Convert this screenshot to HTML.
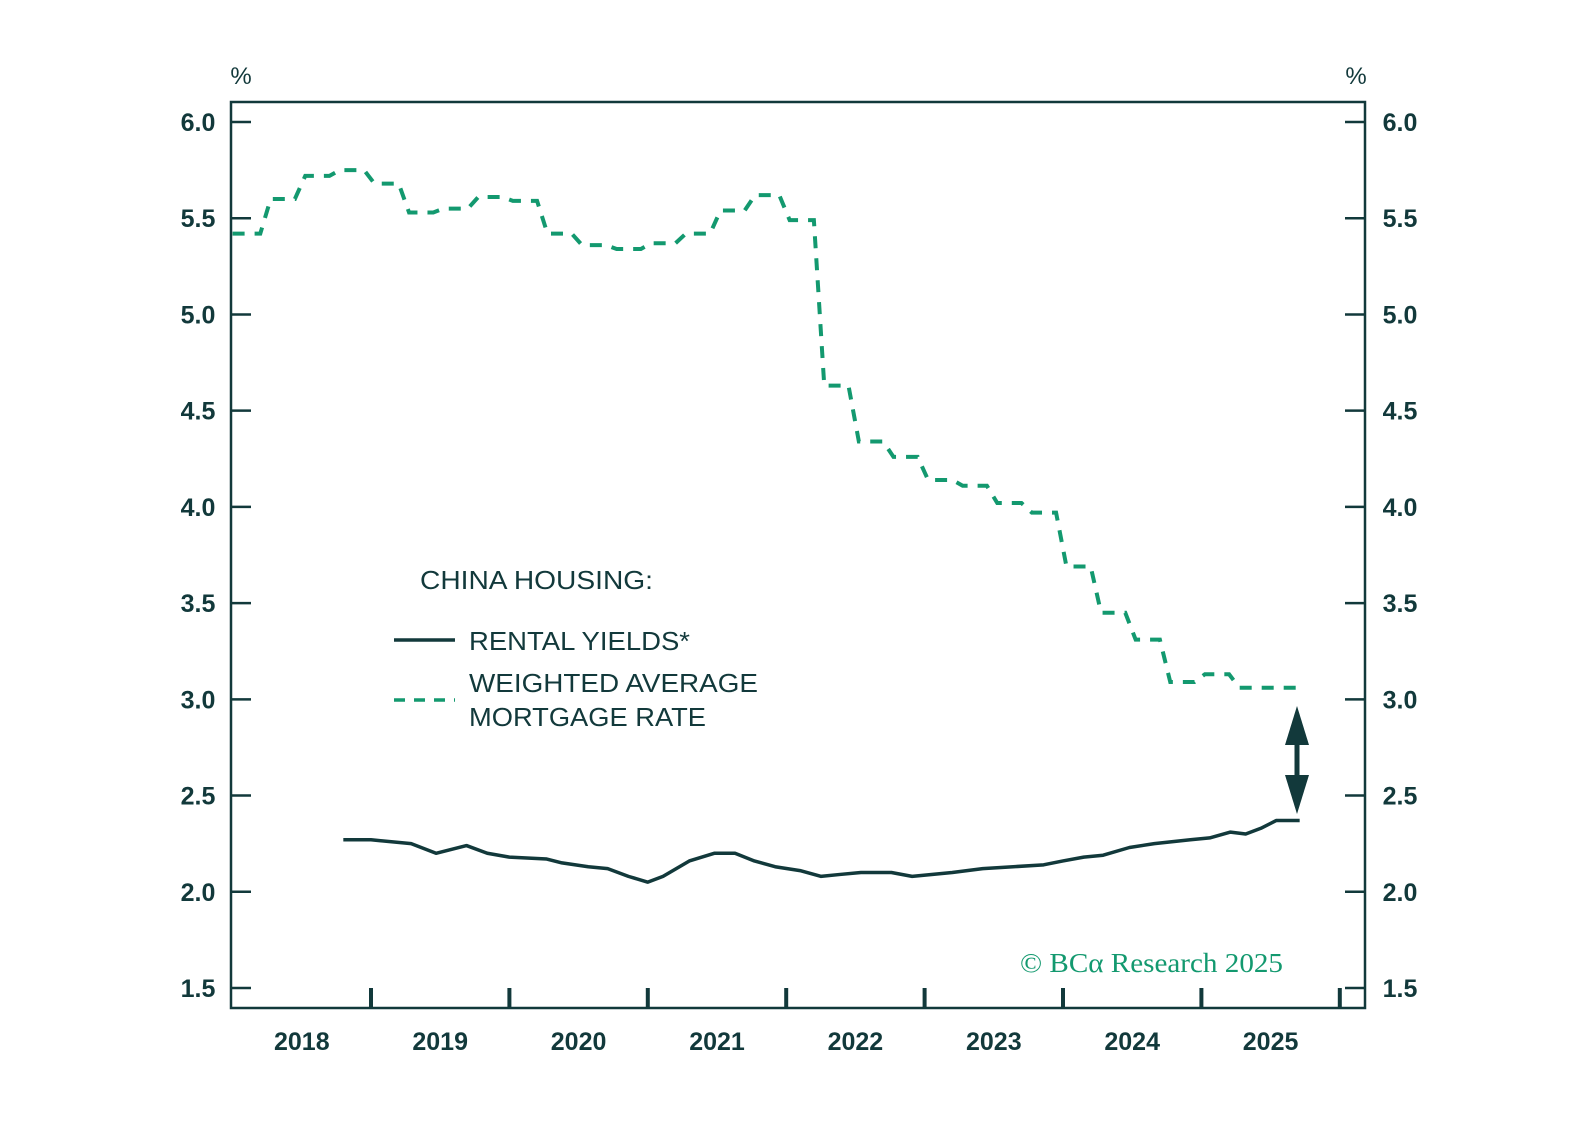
<!DOCTYPE html>
<html><head><meta charset="utf-8"><style>
html,body{margin:0;padding:0;background:#fff}
svg{display:block;font-family:"Liberation Sans",sans-serif}
</style></head><body>
<svg id="chart" width="1588" height="1144" viewBox="0 0 1588 1144" xmlns="http://www.w3.org/2000/svg">
<g id="axes"></g>
<g id="series"></g>
<g fill="#12393b" font-size="26">
<text x="420" y="589" textLength="233" lengthAdjust="spacingAndGlyphs">CHINA HOUSING:</text>
<line x1="394" y1="640" x2="455" y2="640" stroke="#12393b" stroke-width="3.5"/>
<text x="469" y="650" textLength="221" lengthAdjust="spacingAndGlyphs">RENTAL YIELDS*</text>
<line x1="394" y1="700" x2="455" y2="700" stroke="#13996f" stroke-width="3.5" stroke-dasharray="11 9"/>
<text x="469" y="692" textLength="289" lengthAdjust="spacingAndGlyphs">WEIGHTED AVERAGE</text>
<text x="469" y="726" textLength="237" lengthAdjust="spacingAndGlyphs">MORTGAGE RATE</text>
</g>
<text x="1020" y="972" font-family="Liberation Serif, serif" font-size="27" fill="#13996f" textLength="263" lengthAdjust="spacingAndGlyphs">© BCα Research 2025</text>
<g fill="#12393b">
<rect x="1294.5" y="725" width="5" height="70"/>
<polygon points="1297,706 1285,745 1309,745"/>
<polygon points="1297,814 1285,775 1309,775"/>
</g>
</svg>
<script>
const yTicks = [1.5, 2.0, 2.5, 3.0, 3.5, 4.0, 4.5, 5.0, 5.5, 6.0];
const yTickLabels = ["1.5","2.0","2.5","3.0","3.5","4.0","4.5","5.0","5.5","6.0"];
const years = [2018, 2019, 2020, 2021, 2022, 2023, 2024, 2025];
const yearLabels = ["2018","2019","2020","2021","2022","2023","2024","2025"];
const mortgageStart = 2018.0;
const mortgageRate = [5.42,5.60,5.72,5.75,5.68,5.53,5.55,5.61,5.59,5.42,5.36,5.34,5.37,5.42,5.54,5.62,5.49,4.63,4.34,4.26,4.14,4.11,4.02,3.97,3.69,3.45,3.31,3.09,3.13,3.06,3.06];
const rentalDates = [2018.80,2019.00,2019.29,2019.47,2019.69,2019.84,2020.00,2020.27,2020.38,2020.57,2020.71,2020.86,2021.00,2021.11,2021.30,2021.48,2021.63,2021.77,2021.92,2022.10,2022.25,2022.39,2022.54,2022.76,2022.91,2023.20,2023.42,2023.64,2023.86,2024.00,2024.15,2024.29,2024.48,2024.66,2024.92,2025.06,2025.21,2025.32,2025.43,2025.54,2025.71];
const rentalYields = [2.27,2.27,2.25,2.20,2.24,2.20,2.18,2.17,2.15,2.13,2.12,2.08,2.05,2.08,2.16,2.20,2.20,2.16,2.13,2.11,2.08,2.09,2.10,2.10,2.08,2.10,2.12,2.13,2.14,2.16,2.18,2.19,2.23,2.25,2.27,2.28,2.31,2.30,2.33,2.37,2.37];

const L=231,R=1365,T=102,B=1008;
function x(t){return 232.6+(t-2018)*138.4;}
function y(v){return 122+(6-v)*192.44;}
const NS="http://www.w3.org/2000/svg";
function mk(tag,attrs,parent){const e=document.createElementNS(NS,tag);for(const k in attrs)e.setAttribute(k,attrs[k]);parent.appendChild(e);return e;}
const ax=document.getElementById('axes'), se=document.getElementById('series');
const C="#12393b";
let f=mk('rect',{x:L,y:T,width:R-L,height:B-T,fill:'none',stroke:C,'stroke-width':2.5},ax);


yTicks.forEach((v,i)=>{
  let a=mk('line',{x1:L,x2:L+20,y1:y(v),y2:y(v),stroke:C,'stroke-width':2.5},ax);
  
  
  let b=mk('line',{x1:R-20,x2:R,y1:y(v),y2:y(v),stroke:C,'stroke-width':2.5},ax);
  
  
  let t1=mk('text',{x:198,y:y(v)+9,'text-anchor':'middle','font-size':25,fill:C,'font-weight':'bold'},ax);
  t1.textContent=yTickLabels[i];
  
  
  let t2=mk('text',{x:1400,y:y(v)+9,'text-anchor':'middle','font-size':25,fill:C,'font-weight':'bold'},ax);
  t2.textContent=yTickLabels[i];
  
  
});
[241,1356].forEach(px=>{
  let p=mk('text',{x:px,y:84,'text-anchor':'middle','font-size':24,fill:C},ax);
  p.textContent='%';
  
  
});
years.concat([2026]).forEach(yr=>{
  if(yr===2018)return;
  let tk=mk('line',{x1:x(yr),x2:x(yr),y1:B,y2:B-20,stroke:C,'stroke-width':4},ax);
  
  
});
years.forEach((yr,i)=>{
  let t=mk('text',{x:x(yr+0.5),y:1050,'text-anchor':'middle','font-size':25,fill:C,'font-weight':'bold'},ax);
  t.textContent=yearLabels[i];
  
  
});
let pts=[];
mortgageRate.forEach((v,i)=>{
  const s=mortgageStart+i*0.25;
  const a=(i===0)?s:s+0.025, b=s+0.2;
  pts.push([x(a),y(v)],[x(b),y(v)]);
});
let mp=mk('polyline',{points:pts.map(p=>p.join(',')).join(' '),fill:'none',stroke:'#13996f','stroke-width':4,'stroke-dasharray':'12 10'},se);


let rp=mk('polyline',{points:rentalDates.map((d,i)=>x(d)+','+y(rentalYields[i])).join(' '),fill:'none',stroke:C,'stroke-width':3.5,'stroke-linejoin':'round'},se);


</script>
</body></html>
